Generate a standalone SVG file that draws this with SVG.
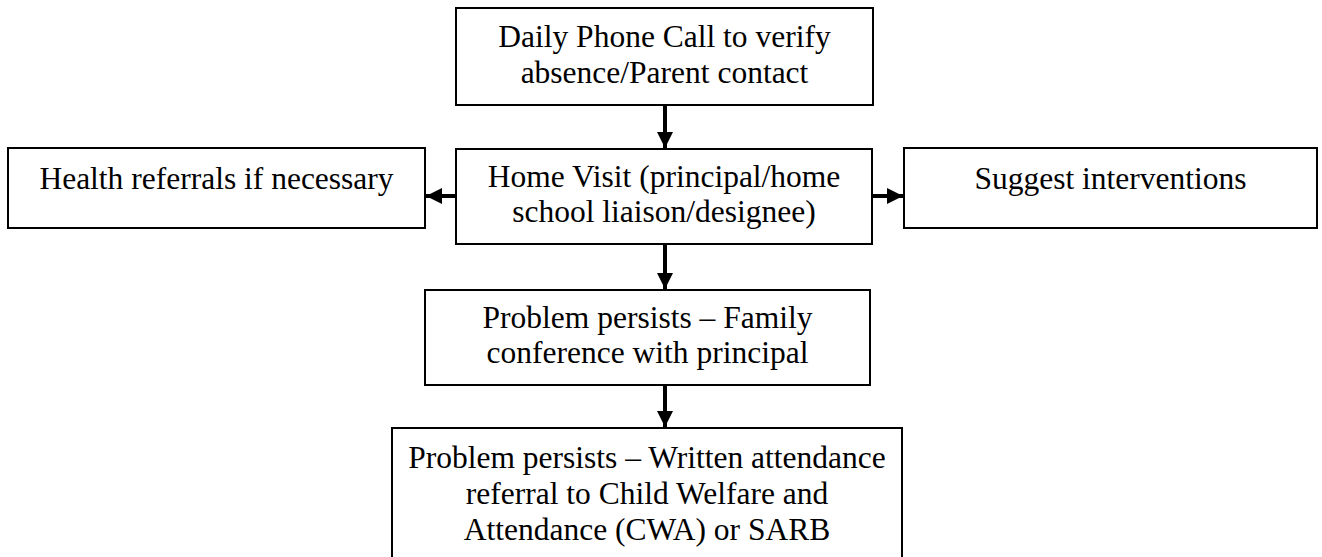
<svg xmlns="http://www.w3.org/2000/svg" width="1322" height="557" viewBox="0 0 1322 557">
<style>
.box{fill:#fff;stroke:#000;stroke-width:2}
.t{font-family:"Liberation Serif","Times New Roman",serif;font-size:31.5px;fill:#000;text-anchor:middle}
.c{stroke:#000;stroke-width:4;fill:none}
</style>
<defs>
<marker id="ah" viewBox="0 0 10 10" refX="10" refY="5" markerWidth="4" markerHeight="4" markerUnits="strokeWidth" orient="auto">
<path d="M0,0 L10,5 L0,10 Z" fill="#000"/>
</marker>
</defs>
<rect width="1322" height="557" fill="#fff"/>
<g id="n1"><rect class="box" x="456" y="8" width="417" height="97"/>
<text class="t" x="664.5" y="47">Daily Phone Call to verify</text>
<text class="t" x="664.5" y="83">absence/Parent contact</text></g>
<g id="n2"><rect class="box" x="456" y="149" width="416" height="95"/>
<text class="t" x="664" y="187">Home Visit (principal/home</text>
<text class="t" x="664" y="222">school liaison/designee)</text></g>
<g id="n3"><rect class="box" x="8" y="148" width="417" height="80"/>
<text class="t" x="216.5" y="189">Health referrals if necessary</text></g>
<g id="n4"><rect class="box" x="904" y="148" width="413" height="80"/>
<text class="t" x="1110.5" y="189">Suggest interventions</text></g>
<g id="n5"><rect class="box" x="425" y="290" width="445" height="95"/>
<text class="t" x="647.5" y="328">Problem persists – Family</text>
<text class="t" x="647.5" y="363">conference with principal</text></g>
<g id="n6"><rect class="box" x="392" y="428" width="510" height="140"/>
<text class="t" x="647" y="468">Problem persists – Written attendance</text>
<text class="t" x="647" y="504">referral to Child Welfare and</text>
<text class="t" x="647" y="540">Attendance (CWA) or SARB</text></g>
<g id="connectors">
<line class="c" x1="665" y1="105" x2="665" y2="148" marker-end="url(#ah)"/>
<line class="c" x1="665" y1="244" x2="665" y2="289" marker-end="url(#ah)"/>
<line class="c" x1="665" y1="385" x2="665" y2="427" marker-end="url(#ah)"/>
<line class="c" x1="456" y1="196" x2="426" y2="196" marker-end="url(#ah)"/>
<line class="c" x1="872" y1="196" x2="903" y2="196" marker-end="url(#ah)"/>
</g>
</svg>
